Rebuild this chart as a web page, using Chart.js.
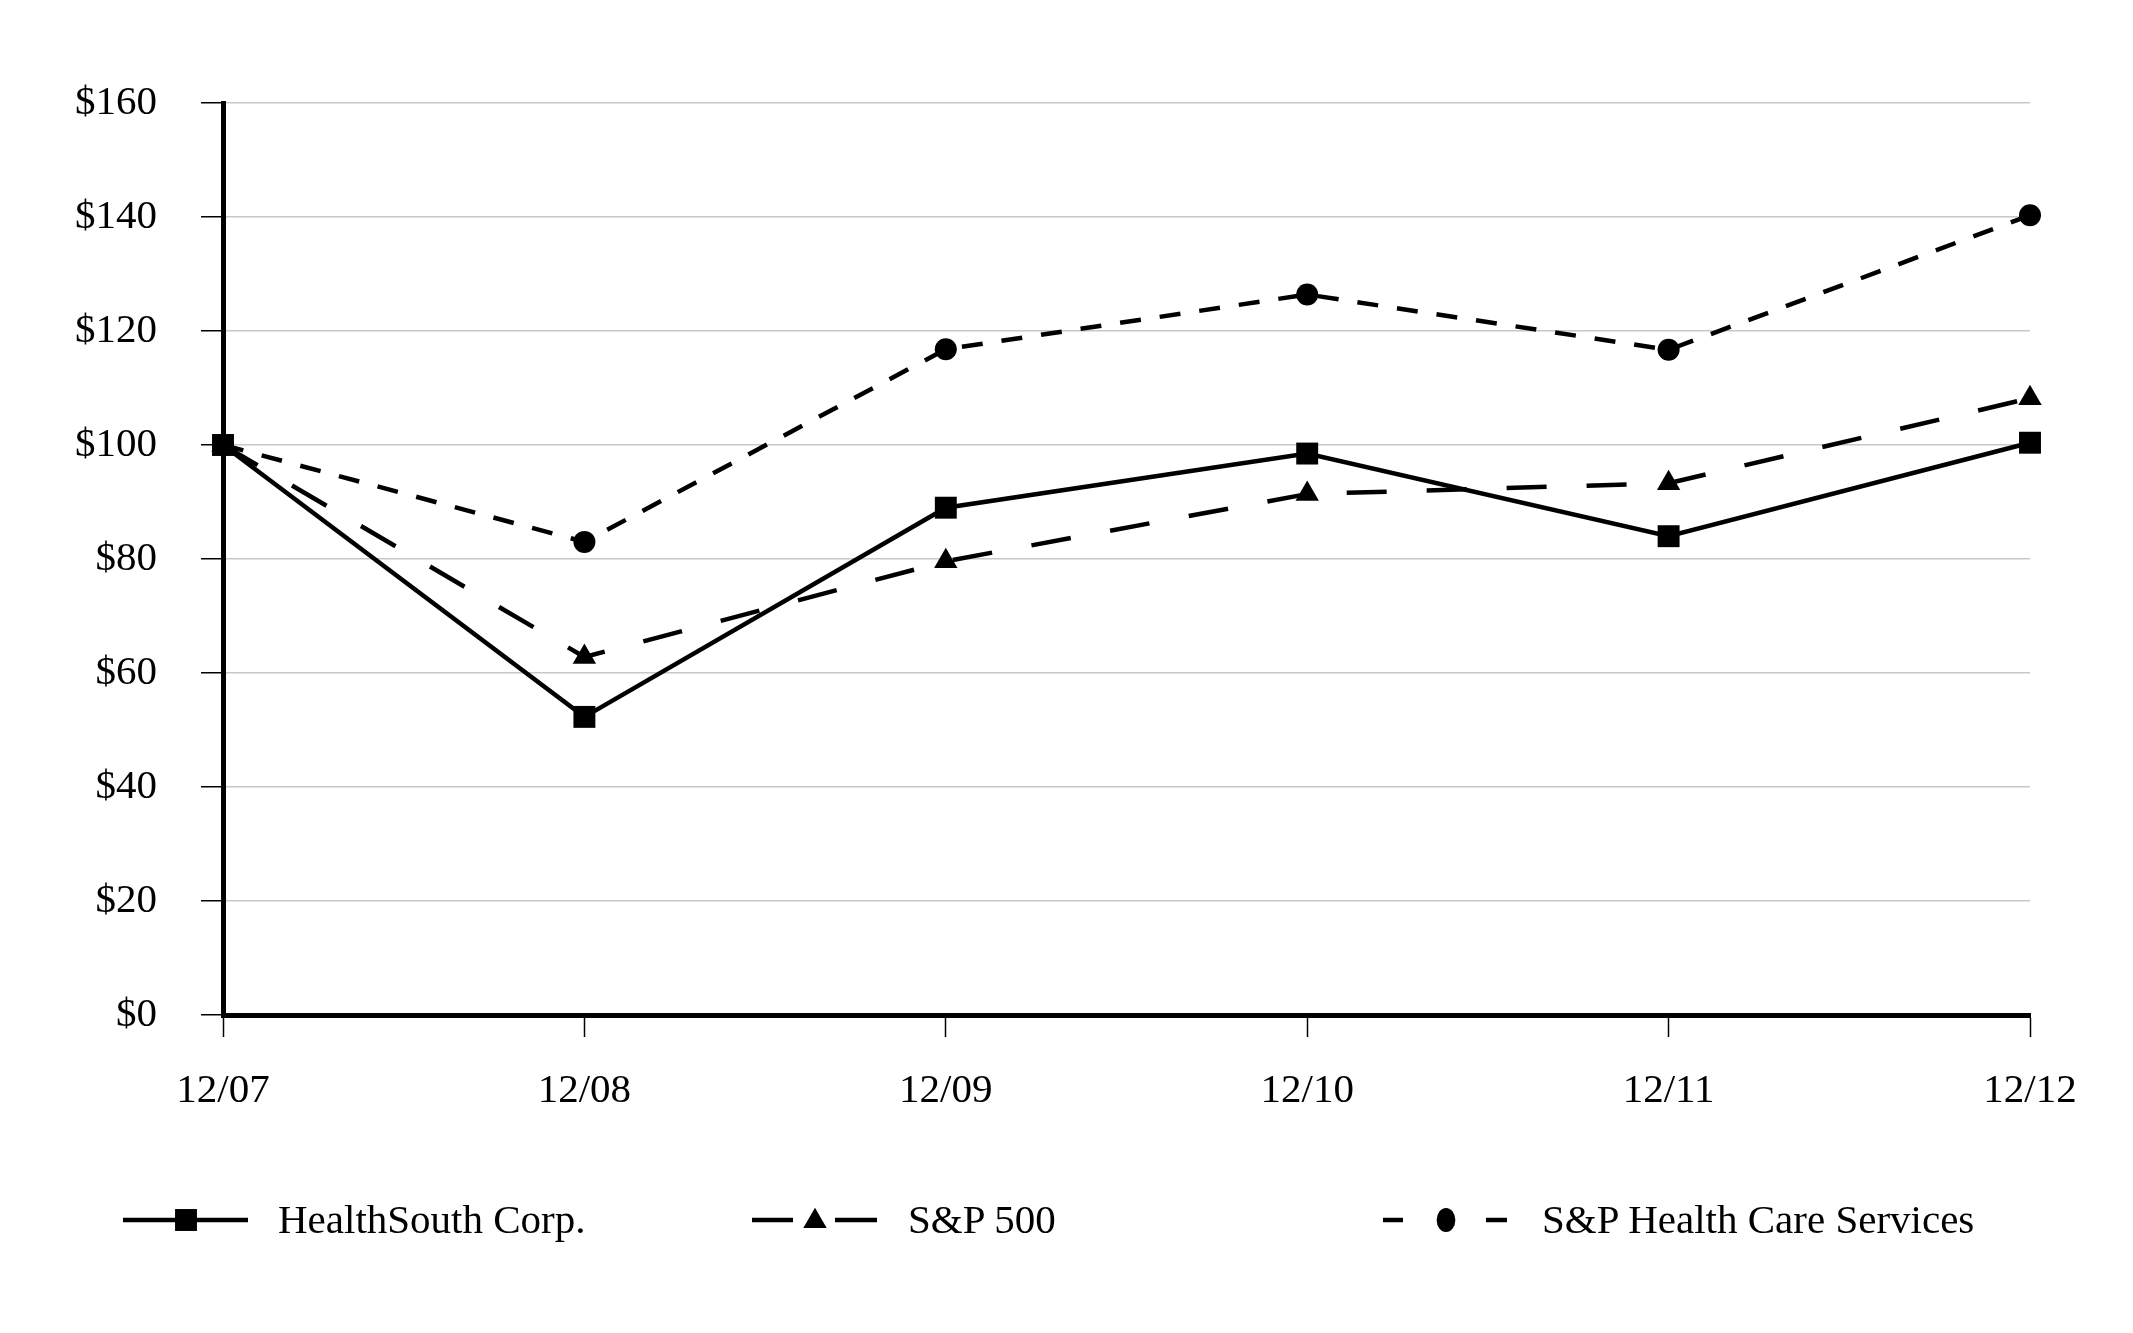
<!DOCTYPE html>
<html>
<head>
<meta charset="utf-8">
<script src="https://cdn.jsdelivr.net/npm/chart.js@4.4.1/dist/chart.umd.min.js"></script>
<style>
  html, body { margin: 0; padding: 0; background: #fff; }
  #wrap { position: relative; width: 2133px; height: 1333px; overflow: hidden; }
  #c { position: absolute; left: 0; top: 0; }
  .lg-item { position: absolute; top: 1199px; height: 41px; }
  .lg-text { position: absolute; top: 0; font-family: 'Liberation Serif', 'Times New Roman', serif;
             font-size: 41px; line-height: 41px; color: #000; white-space: nowrap; }
  svg.lg-sym { position: absolute; overflow: visible; }
</style>
</head>
<body>
<div id="wrap">
  <canvas id="c" width="2133" height="1333"></canvas>
  <div id="legend"></div>
</div>
<script>
// ---- data ----
const categories = ['12/07', '12/08', '12/09', '12/10', '12/11', '12/12'];
const seriesNames = ['HealthSouth Corp.', 'S&P 500', 'S&P Health Care Services'];
const healthSouth = [100, 52.3, 89.0, 98.5, 84.0, 100.4];
const sp500 = [100, 62.8, 79.6, 91.4, 93.3, 108.2];
const spHealthCare = [100, 83.0, 116.8, 126.4, 116.7, 140.3];
const yMin = 0, yMax = 160, yStep = 20;

const FONT = "'Liberation Serif', 'Times New Roman', serif";

const datasets = [
  { label: seriesNames[0], data: healthSouth, borderColor: '#000', backgroundColor: '#000',
    borderWidth: 4.5, borderDash: [], pointStyle: 'rect', pointRadius: 15.5, pointHoverRadius: 15.5,
    pointBorderWidth: 0, tension: 0, clip: false },
  { label: seriesNames[1], data: sp500, borderColor: '#000', backgroundColor: '#000',
    borderWidth: 4.5, borderDash: [40, 40], pointStyle: 'triangle', pointRadius: 13.5, pointHoverRadius: 13.5,
    pointBorderWidth: 0, tension: 0, clip: false },
  { label: seriesNames[2], data: spHealthCare, borderColor: '#000', backgroundColor: '#000',
    borderWidth: 4.5, borderDash: [21, 19], pointStyle: 'circle', pointRadius: 11, pointHoverRadius: 11,
    pointBorderWidth: 0, tension: 0, clip: false }
];

const chart = new Chart(document.getElementById('c'), {
  type: 'line',
  data: { labels: categories, datasets: datasets },
  options: {
    responsive: false,
    animation: false,
    devicePixelRatio: 1,
    layout: { padding: { left: 0, top: 103, right: 103, bottom: 218 } },
    plugins: { legend: { display: false }, tooltip: { enabled: false } },
    scales: {
      x: {
        type: 'category',
        offset: false,
        afterFit: (s) => { s.height = 100; },
        grid: { display: true, drawOnChartArea: false, drawTicks: true, tickLength: 22,
                tickColor: '#000', tickWidth: 1.5 },
        border: { display: true, color: '#000', width: 5 },
        ticks: { autoSkip: false, maxRotation: 0, minRotation: 0, padding: 30, color: '#000',
                 font: { family: FONT, size: 41 } }
      },
      y: {
        min: yMin, max: yMax,
        afterFit: (s) => { s.width = 223; },
        grid: { display: true, drawOnChartArea: true, color: '#c8c8c8', lineWidth: 1.5,
                drawTicks: true, tickLength: 22, tickColor: '#000', tickWidth: 1.5 },
        border: { display: true, color: '#000', width: 5 },
        ticks: { stepSize: yStep, padding: 44, color: '#000', font: { family: FONT, size: 41 },
                 callback: (v) => '$' + v }
      }
    }
  }
});

// ---- HTML legend built from the dataset styles ----
const legendLayout = [
  { segs: [[123, 248]], mark: 186, text: 278 },
  { segs: [[752, 793], [835, 877]], mark: 815, text: 908 },
  { segs: [[1383, 1403], [1486, 1507]], mark: 1446, text: 1542 }
];
const legendEl = document.getElementById('legend');
const NS = 'http://www.w3.org/2000/svg';
datasets.forEach((ds, i) => {
  const L = legendLayout[i];
  const item = document.createElement('div');
  item.className = 'lg-item';
  item.style.left = '0px';
  const svg = document.createElementNS(NS, 'svg');
  svg.setAttribute('class', 'lg-sym');
  svg.setAttribute('width', '2133');
  svg.setAttribute('height', '41');
  svg.style.left = '0px'; svg.style.top = '0px';
  const cy = 21;
  L.segs.forEach(([a, b]) => {
    const ln = document.createElementNS(NS, 'line');
    ln.setAttribute('x1', a); ln.setAttribute('x2', b);
    ln.setAttribute('y1', cy); ln.setAttribute('y2', cy);
    ln.setAttribute('stroke', '#000'); ln.setAttribute('stroke-width', ds.borderWidth);
    svg.appendChild(ln);
  });
  let m;
  if (ds.pointStyle === 'rect') {
    const s = ds.pointRadius * Math.SQRT1_2;
    m = document.createElementNS(NS, 'rect');
    m.setAttribute('x', L.mark - s); m.setAttribute('y', cy - s);
    m.setAttribute('width', 2 * s); m.setAttribute('height', 2 * s);
  } else if (ds.pointStyle === 'triangle') {
    const r = ds.pointRadius, w = r * Math.sin(Math.PI / 3);
    m = document.createElementNS(NS, 'polygon');
    m.setAttribute('points', `${L.mark},${cy - r * 0.9} ${L.mark - w},${cy + r * 0.6} ${L.mark + w},${cy + r * 0.6}`);
  } else {
    m = document.createElementNS(NS, 'ellipse');
    m.setAttribute('cx', L.mark); m.setAttribute('cy', cy);
    m.setAttribute('rx', ds.pointRadius * 0.85); m.setAttribute('ry', ds.pointRadius * 1.1);
  }
  m.setAttribute('fill', '#000');
  svg.appendChild(m);
  item.appendChild(svg);
  const t = document.createElement('div');
  t.className = 'lg-text';
  t.style.left = L.text + 'px';
  t.textContent = ds.label;
  item.appendChild(t);
  legendEl.appendChild(item);
});
</script>
</body>
</html>
